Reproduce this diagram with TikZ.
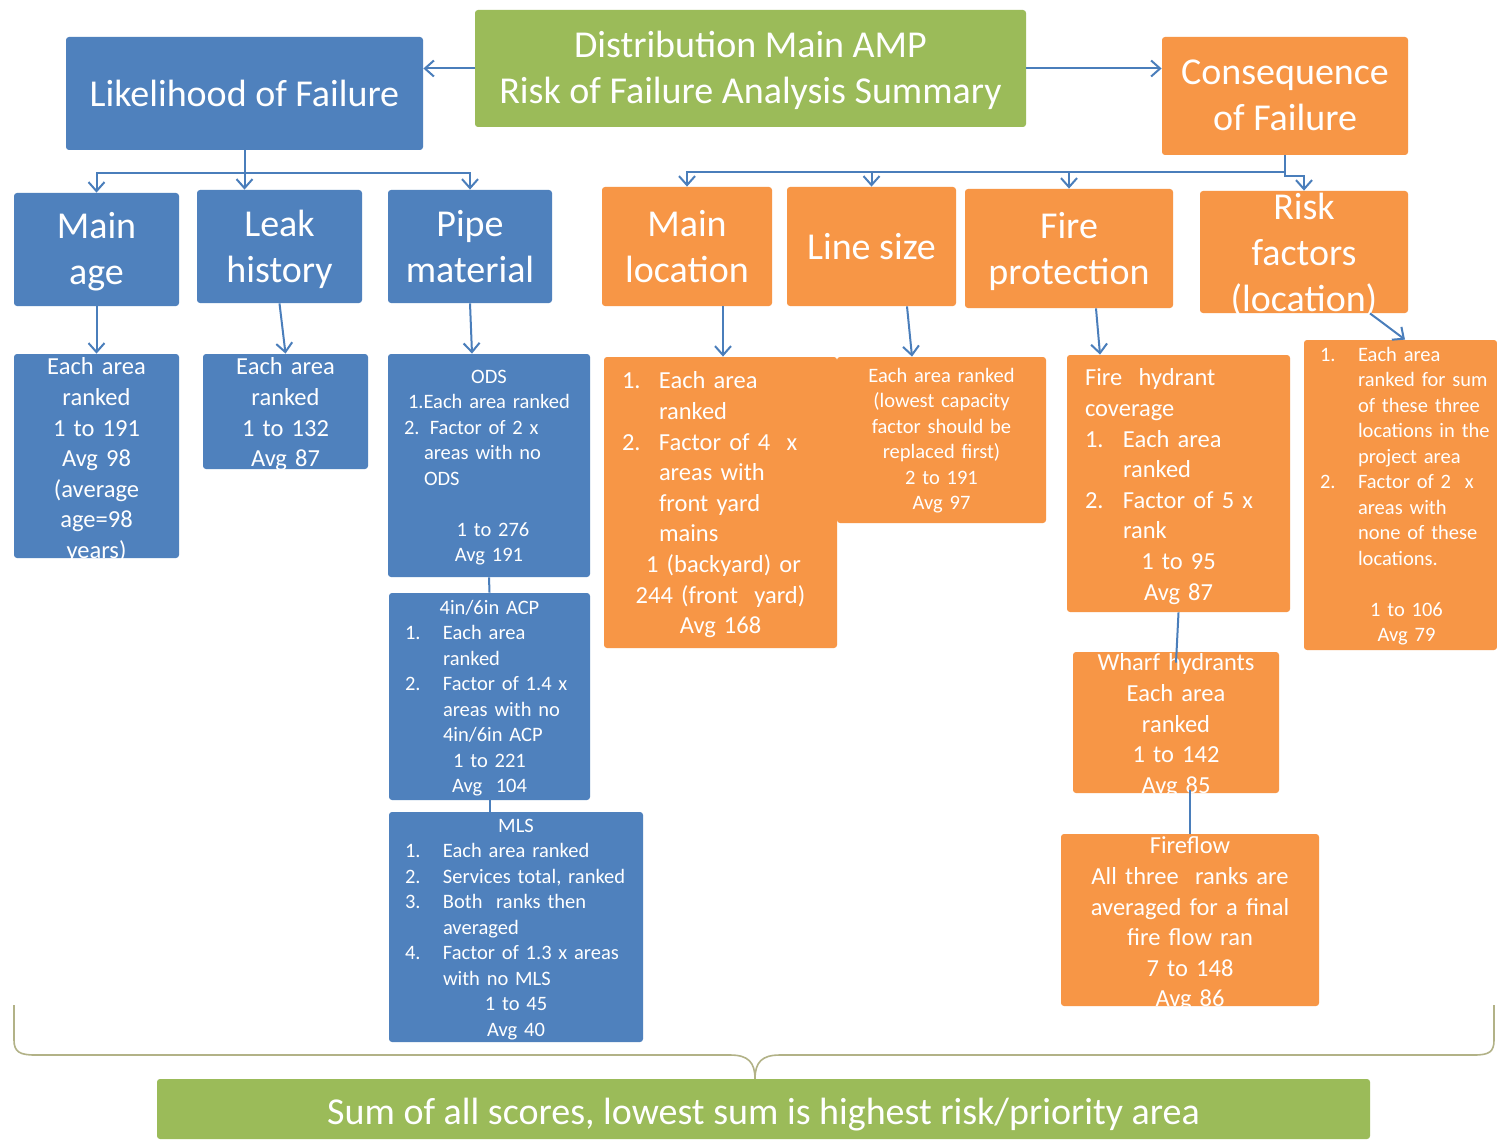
\documentclass[tikz,border=0pt]{standalone}
\usepackage{fontspec}
\setmainfont{Carlito}
\usetikzlibrary{arrows.meta,fit}

\definecolor{boxblue}{HTML}{4F81BD}
\definecolor{boxorange}{HTML}{F79646}
\definecolor{boxgreen}{HTML}{9BBB59}
\definecolor{wire}{HTML}{4A7EBB}
\definecolor{bracec}{RGB}{178,178,135}

\newcommand\headfont{\fontsize{19}{23}\selectfont}
\newcommand\bigfont{\fontsize{12.25}{15.3}\selectfont}
\newcommand\smallfont{\fontsize{10.25}{12.75}\selectfont}
\newcommand\sumfont{\fontsize{19}{23}\selectfont}
% a line starting at a given indent from the left edge of the text block
\newcommand\At[2]{\makebox[\hsize][l]{\hspace*{#1}#2}}
% list number set in a fixed-width slot
\newcommand\Num[2]{\makebox[#1][l]{#2}}

\tikzset{
  panelbox/.style={inner sep=0pt, rounded corners=1.5pt},
  paneltext/.style={inner sep=0pt, text=white, align=center},
  conn/.style={draw=wire, line width=1pt},
  arr/.style={conn, -{Straight Barb[length=4.5pt,width=8pt]}},
  brace/.style={draw=bracec, line width=0.8pt},
}

% coloured box #1 spanning #2..#3 with fill #4; text options #5, text #6
\newcommand\panel[6]{%
  \node[panelbox, fill=#4, fit={#2 #3}] (#1) {};
  \begin{scope}
    \clip #2 rectangle #3;
    \node[paneltext, #5] (#1-t) {#6};
  \end{scope}}

\begin{document}
\begin{tikzpicture}[x=0.5pt, y=-0.5pt]
\fill[white] (0,0) rectangle (1497,1139);
\useasboundingbox (0,0) rectangle (1497,1139);

% top level
\panel{title}{(475,10)}{(1026,127)}{boxgreen}{at={(750.5,25)}, anchor=north, font=\headfont}{\strut Distribution Main AMP\\Risk of Failure Analysis Summary}
\panel{lof}{(66,37)}{(423,150)}{boxblue}{at={(244.5,74)}, anchor=north, font=\headfont}{\strut Likelihood of Failure}
\panel{cons}{(1162,37)}{(1408,155)}{boxorange}{at={(1285,52)}, anchor=north, font=\headfont}{\strut Consequence\\of Failure}

% likelihood factors
\panel{age}{(14,193)}{(179,306)}{boxblue}{at={(96.5,206)}, anchor=north, font=\headfont}{\strut Main\\age}
\panel{leak}{(197,190)}{(362,303)}{boxblue}{at={(279.5,204)}, anchor=north, font=\headfont}{\strut Leak\\history}
\panel{pipe}{(388,190)}{(552,303)}{boxblue}{at={(470,204)}, anchor=north, font=\headfont}{\strut Pipe\\material}

% consequence factors
\panel{mloc}{(602,187)}{(772,306)}{boxorange}{at={(687,204)}, anchor=north, font=\headfont}{\strut Main\\location}
\panel{lsize}{(787,187)}{(956,306)}{boxorange}{at={(871.5,227)}, anchor=north, font=\headfont}{\strut Line size}
\panel{fire}{(965,189)}{(1173,308)}{boxorange}{at={(1069,206)}, anchor=north, font=\headfont}{\strut Fire\\protection}
\panel{risk}{(1200,191)}{(1408,313)}{boxorange}{at={(1304,187)}, anchor=north, font=\headfont}{\strut Risk\\factors\\(location)}

% likelihood details
\panel{agedet}{(14,354)}{(179,558)}{boxblue}{at={(96.5,353)}, anchor=north, font=\bigfont, text width=82.5pt}{\strut Each area\\ranked\\1 to 191\\Avg 98\\(average\\age=98\\years)}
\panel{leakdet}{(203,354)}{(368,469)}{boxblue}{at={(285.5,353)}, anchor=north, font=\bigfont, text width=82.5pt}{\strut Each area\\ranked\\1 to 132\\Avg 87}
\panel{ods}{(388,354)}{(590,577)}{boxblue}{at={(489,365)}, anchor=north, font=\smallfont, text width=101pt}{\strut ODS\\
\At{10pt}{1.Each area ranked}\\
\At{8pt}{2. Factor of 2 x}\\
\At{18pt}{areas with no}\\
\At{18pt}{ODS}\\
\mbox{}\\
\hspace*{4pt}1 to 276\\
Avg 191}
\panel{acp}{(389,593)}{(590,800)}{boxblue}{at={(489.5,596)}, anchor=north, font=\smallfont, text width=100.5pt}{\strut 4in/6in ACP\\
\At{8pt}{\Num{19pt}{1.}Each area}\\
\At{27pt}{ranked}\\
\At{8pt}{\Num{19pt}{2.}Factor of 1.4 x}\\
\At{27pt}{areas with no}\\
\At{27pt}{4in/6in ACP}\\
1 to 221\\
Avg\ \ 104}
\panel{mls}{(389,812)}{(643,1042)}{boxblue}{at={(516,814)}, anchor=north, font=\smallfont, text width=127pt}{\strut MLS\\
\At{8pt}{\Num{19pt}{1.}Each area ranked}\\
\At{8pt}{\Num{19pt}{2.}Services total, ranked}\\
\At{8pt}{\Num{19pt}{3.}Both\ \ ranks then}\\
\At{27pt}{averaged}\\
\At{8pt}{\Num{19pt}{4.}Factor of 1.3 x areas}\\
\At{27pt}{with no MLS}\\
1 to 45\\
Avg 40}

% consequence details
\panel{mlocdet}{(604,357)}{(837,648)}{boxorange}{at={(720.5,367)}, anchor=north, font=\bigfont, text width=116.5pt}{\strut\At{9pt}{\Num{18.5pt}{1.}Each area}\\
\At{27.5pt}{ranked}\\
\At{9pt}{\Num{18.5pt}{2.}Factor of 4\ \ x}\\
\At{27.5pt}{areas with}\\
\At{27.5pt}{front yard}\\
\At{27.5pt}{mains}\\
\hspace*{3pt}1 (backyard) or\\
244 (front\ \ yard)\\
Avg 168}
\panel{lsdet}{(837,357)}{(1046,523)}{boxorange}{at={(941.5,364)}, anchor=north, font=\smallfont, text width=104.5pt}{\strut Each area ranked\\(lowest capacity\\factor should be\\replaced first)\\2 to 191\\Avg 97}
\panel{hyd}{(1067,355)}{(1290,612)}{boxorange}{at={(1178.5,364)}, anchor=north, font=\bigfont, text width=111.5pt}{\strut\At{9pt}{Fire\ \ hydrant}\\
\At{9pt}{coverage}\\
\At{9pt}{\Num{19pt}{1.}Each area}\\
\At{28pt}{ranked}\\
\At{9pt}{\Num{19pt}{2.}Factor of 5 x}\\
\At{28pt}{rank}\\
1 to 95\\
Avg 87}
\panel{riskdet}{(1304,340)}{(1497,650)}{boxorange}{at={(1400.5,343)}, anchor=north, font=\smallfont, text width=96.5pt}{\strut\At{8pt}{\Num{19pt}{1.}Each area}\\
\At{27pt}{ranked for sum}\\
\At{27pt}{of these three}\\
\At{27pt}{locations in the}\\
\At{27pt}{project area}\\
\At{8pt}{\Num{19pt}{2.}Factor of 2\ \ x}\\
\At{27pt}{areas with}\\
\At{27pt}{none of these}\\
\At{27pt}{locations.}\\
\mbox{}\\
\hspace*{6pt}1 to 106\\
\hspace*{6pt}Avg 79}
\panel{wharf}{(1073,652)}{(1279,793)}{boxorange}{at={(1176,649)}, anchor=north, font=\bigfont, text width=103pt}{\strut Wharf hydrants\\Each area\\ranked\\1 to 142\\Avg 85}
\panel{flow}{(1061,834)}{(1319,1006)}{boxorange}{at={(1190,832)}, anchor=north, font=\bigfont, text width=129pt}{\strut Fireflow\\All three\ \ ranks are\\averaged for a final\\fire flow ran\\7 to 148\\Avg 86}

% summary
\panel{sum}{(157,1079)}{(1370,1139)}{boxgreen}{at={(763.5,1092)}, anchor=north, font=\sumfont}{\strut Sum of all scores, lowest sum is highest risk/priority area}

% connectors from the title
\draw[arr] (title.west) -- (title.west -| lof.east);
\draw[arr] (title.east) -- (title.east -| cons.west);

% likelihood branches
\coordinate (lj) at (244.5,173);
\draw[arr] (lof.south) -- (lj) -| (age.north);
\draw[arr] (lj) -- (lj |- leak.north);
\draw[arr] (lj) -| (pipe.north);

% consequence branches
\coordinate (cj) at (1285,172);
\coordinate (cj2) at (1285,176);
\draw[arr] (cons.south) -- (cj) -| (mloc.north);
\draw[arr] (cj) -| (lsize.north);
\draw[arr] (cj) -| (fire.north);
\draw[arr] (cons.south) -- (cj2) -| (risk.north);

% factor to detail
\draw[arr] (age.south) -- (agedet.north);
\draw[arr] (leak.south) -- (leakdet.north);
\draw[arr] (pipe.south) -- ([xshift=-8.5pt]ods.north);
\draw[arr] ([xshift=1.25pt]mlocdet.north |- mloc.south) -- ([xshift=1.25pt]mlocdet.north);
\draw[arr] ([xshift=17.75pt]lsize.south) -- ([xshift=-14.75pt]lsdet.north);
\draw[arr] ([xshift=13.5pt]fire.south) -- ([xshift=-39.25pt]hyd.north);
\draw[arr] ([xshift=33pt]risk.south) -- ([xshift=2.25pt]riskdet.north);

% stacked detail boxes
\draw[conn] (ods.south) -- (acp.north);
\draw[conn] (acp.south) -- (acp.south |- mls.north);
\draw[conn] (hyd.south) -- ([yshift=-5.5pt]wharf.north);
\draw[conn] ([yshift=1.5pt]flow.north |- wharf.south) -- (flow.north);

% brace gathering all scores into the summary
\draw[brace] (14,1005) -- (14,1040) .. controls (14,1052) and (20,1055) .. (35,1055)
  -- (730,1055) .. controls (748,1055) and (755,1062) .. (755,1079)
  .. controls (755,1062) and (762,1055) .. (780,1055)
  -- (1474,1055) .. controls (1489,1055) and (1494,1052) .. (1494,1040) -- (1494,1005);
\end{tikzpicture}
\end{document}
